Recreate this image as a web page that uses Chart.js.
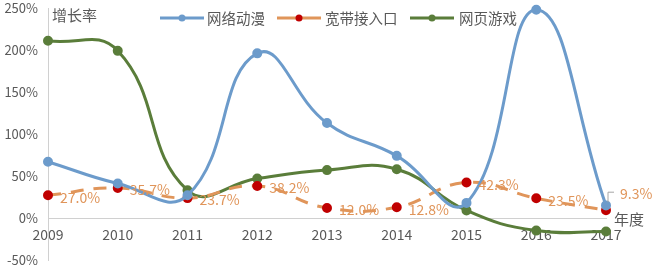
<!DOCTYPE html>
<html>
<head>
<meta charset="utf-8">
<script src="https://cdn.jsdelivr.net/npm/chart.js@4"></script>
<style>
  html, body { margin: 0; padding: 0; background: #fff; }
  #wrap { width: 654px; height: 271px; }
</style>
</head>
<body>
<div id="wrap"><canvas id="c" width="654" height="271"></canvas></div>
<script>
const years = ["2009", "2010", "2011", "2012", "2013", "2014", "2015", "2016", "2017"];
const animeGrowth = [67, 41, 27, 196, 113, 74, 18, 248, 15];
const broadbandGrowth = [27.0, 35.7, 23.7, 38.2, 12.0, 12.8, 42.3, 23.5, 9.3];
const webGameGrowth = [211, 199, 33, 47, 57, 58, 9, -15, -16];
const yTicks = [-50, 0, 50, 100, 150, 200, 250];

const TXT = "#595959";
const FONT = "'Noto Sans CJK SC', 'DejaVu Sans', sans-serif";

// 宽带接入口 数据标签 + 自绘图例 + 轴标题
const extras = {
  id: "extras",
  afterDatasetsDraw(chart) {
    const ctx = chart.ctx;
    const meta = chart.getDatasetMeta(1);
    ctx.save();
    ctx.font = "14px " + FONT;
    ctx.fillStyle = "#E0955A";
    ctx.textBaseline = "middle";
    meta.data.forEach((pt, i) => {
      const txt = broadbandGrowth[i].toFixed(1) + "%";
      if (i === broadbandGrowth.length - 1) {
        ctx.strokeStyle = "#A6A6A6";
        ctx.lineWidth = 1;
        ctx.beginPath();
        ctx.moveTo(pt.x + 2, pt.y - 8);
        ctx.lineTo(pt.x + 2, pt.y - 18);
        ctx.lineTo(pt.x + 8, pt.y - 18);
        ctx.stroke();
        ctx.fillText(txt, pt.x + 14, pt.y - 17);
      } else {
        ctx.fillText(txt, pt.x + 12, pt.y + 2);
      }
    });

    // titles
    ctx.fillStyle = TXT;
    ctx.font = "15px " + FONT;
    ctx.fillText("增长率", 52, 15);
    ctx.fillText("年度", 614, 219);

    // legend
    const items = [
      { x: 160, label: "网络动漫", ds: 0, tx: 207 },
      { x: 277, label: "宽带接入口", ds: 1, tx: 325 },
      { x: 410, label: "网页游戏", ds: 2, tx: 459 }
    ];
    const ly = 18;
    ctx.font = "14.5px " + FONT;
    items.forEach(it => {
      const d = chart.data.datasets[it.ds];
      ctx.strokeStyle = d.borderColor;
      ctx.lineWidth = 3;
      ctx.beginPath();
      ctx.moveTo(it.x, ly);
      ctx.lineTo(it.x + 44, ly);
      ctx.stroke();
      ctx.fillStyle = d.pointBackgroundColor;
      ctx.beginPath();
      ctx.arc(it.x + 22, ly, 3.5, 0, Math.PI * 2);
      ctx.fill();
      ctx.fillStyle = TXT;
      ctx.fillText(it.label, it.tx, ly);
    });
    ctx.restore();
  }
};

new Chart(document.getElementById("c"), {
  type: "line",
  data: {
    labels: years,
    datasets: [
      { label: "网络动漫", data: animeGrowth, borderColor: "#6C9BCB", pointBackgroundColor: "#6C9BCB",
        pointBorderColor: "#6C9BCB", borderWidth: 3, pointRadius: 3.5, tension: 0.45 },
      { label: "宽带接入口", data: broadbandGrowth, borderColor: "#E0955A", pointBackgroundColor: "#C00000",
        pointBorderColor: "#C00000", borderWidth: 3, borderDash: [13, 10], pointRadius: 3.5, tension: 0.45 },
      { label: "网页游戏", data: webGameGrowth, borderColor: "#5A7D3A", pointBackgroundColor: "#5A7D3A",
        pointBorderColor: "#5A7D3A", borderWidth: 3, pointRadius: 3.5, tension: 0.45 }
    ]
  },
  options: {
    responsive: false,
    animation: false,
    clip: false,
    layout: { padding: { left: 0, right: 48, top: 8, bottom: 11 } },
    plugins: { legend: { display: false }, tooltip: { enabled: false } },
    elements: { line: { capBezierPoints: false } },
    scales: {
      x: {
        type: "category",
        offset: false,
        position: { y: 0 },
        afterFit(scale) { scale.paddingLeft = 0; scale.paddingRight = 0; scale.paddingTop = 0; scale.paddingBottom = 0; },
        grid: { display: false, drawTicks: false },
        border: { color: "#D0D0D0", width: 1 },
        ticks: { color: TXT, font: { size: 14, family: FONT }, padding: 8, maxRotation: 0 }
      },
      y: {
        min: -50,
        max: 250,
        afterBuildTicks(scale) { scale.ticks = yTicks.map(v => ({ value: v })); },
        afterFit(scale) { scale.width = 48; scale.paddingTop = 0; scale.paddingBottom = 0; },
        grid: { display: false, drawTicks: false },
        border: { color: "#D0D0D0", width: 1 },
        ticks: { color: TXT, font: { size: 13, family: FONT }, padding: 10, callback: v => v + "%" }
      }
    }
  },
  plugins: [extras]
});
</script>
</body>
</html>
